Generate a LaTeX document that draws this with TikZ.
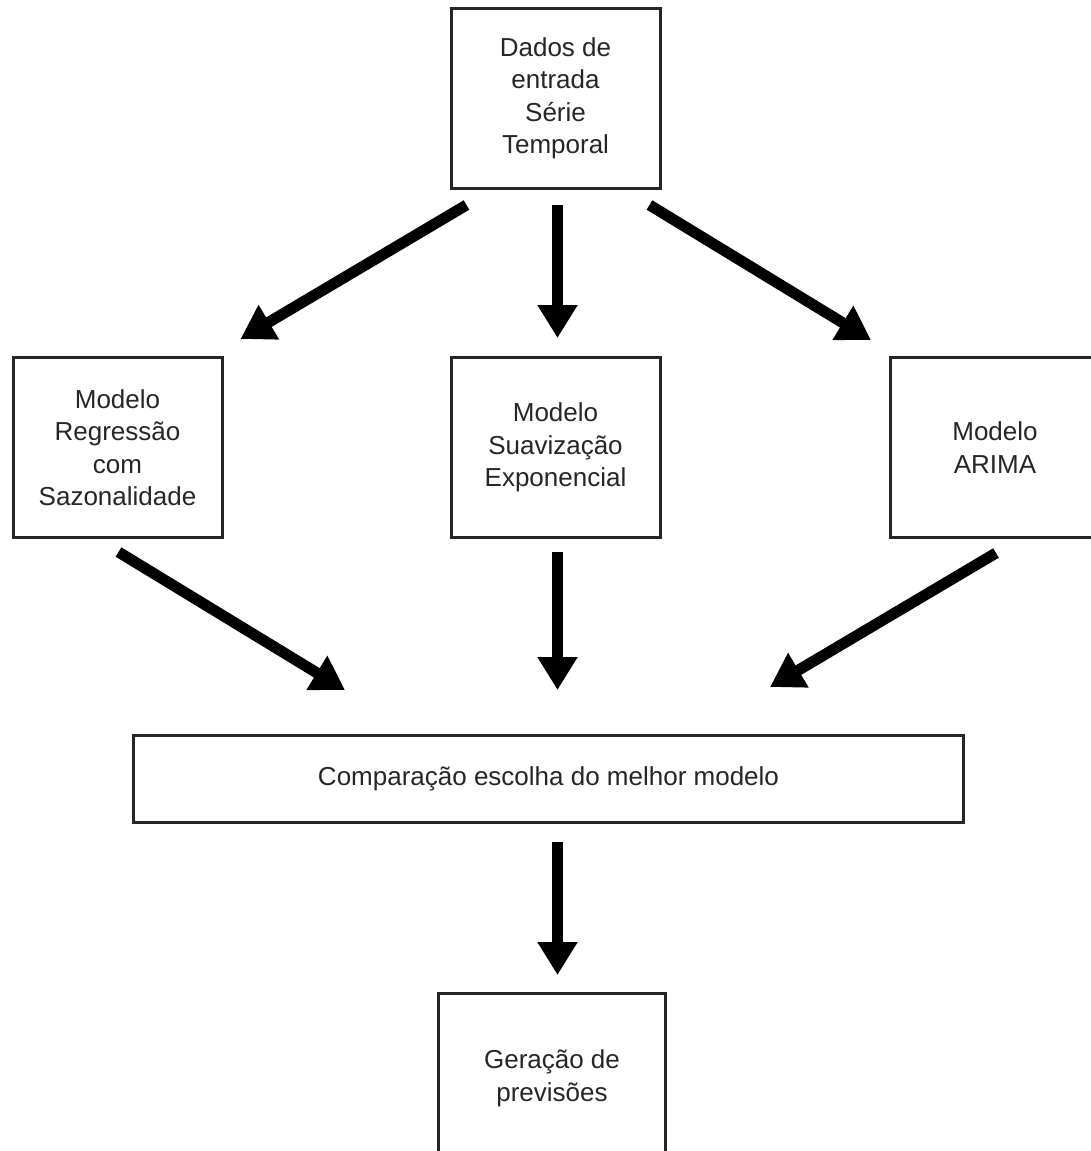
\documentclass[tikz,border=0pt]{standalone}
\usepackage{fontspec}
\setmainfont{Liberation Sans}
\usetikzlibrary{arrows.meta,positioning}

\begin{document}
\begin{tikzpicture}[
  box/.style  = {rectangle, draw=black!85, line width=1.5pt, fill=white,
                 minimum width=104.5pt, minimum height=90pt, align=center,
                 text=black!85, font=\fontsize{13}{16.25}\selectfont},
  wide/.style = {box, minimum width=415pt, minimum height=43.5pt},
  arr/.style  = {-{Triangle[length=16.5pt,width=19pt]}, line width=5.5pt, draw=black}
]
\useasboundingbox (0,0) rectangle (545.5pt,-575.5pt);

%%% ---- INPUT ----
\node[box] (serie) at (277.75pt,-49.25pt) {Dados de\\entrada\\Série\\Temporal};

%%% ---- MODELS ----
\node[box, below=83pt of serie]    (suav)  {Modelo\\Suavização\\Exponencial};
\node[box, left=113pt of suav]     (regr)  {Modelo\\Regressão\\com\\Sazonalidade};
\node[box, right=113.75pt of suav] (arima) {Modelo\\ARIMA};

\draw[arr] ([xshift=8.5pt,yshift=-7.5pt]serie.south west) -- ([xshift=8.5pt,yshift=8.5pt]regr.north east);
\draw[arr] ([xshift=1pt,yshift=-7.5pt]serie.south)        -- ([xshift=1pt,yshift=9pt]suav.north);
\draw[arr] ([xshift=-6pt,yshift=-7.5pt]serie.south east)  -- ([xshift=-9pt,yshift=8pt]arima.north west);

%%% ---- COMPARISON ----
\node[wide, below=97.5pt of suav, xshift=-3.5pt] (comp) {Comparação escolha do melhor modelo};

\draw[arr] ([xshift=0.5pt,yshift=-6.5pt]regr.south) -- ([xshift=-101.75pt,yshift=22pt]comp.north);
\draw[arr] ([xshift=1pt,yshift=-6.5pt]suav.south)   -- ([xshift=4.5pt,yshift=22pt]comp.north);
\draw[arr] ([xshift=0.5pt,yshift=-7pt]arima.south)  -- ([xshift=110.75pt,yshift=23.5pt]comp.north);

%%% ---- FORECASTS ----
\node[box, below=84pt of comp, xshift=1.75pt, minimum width=113.5pt,
      minimum height=85pt] (prev) {Geração de\\previsões};

\draw[arr] ([xshift=4.5pt,yshift=-9pt]comp.south) -- ([xshift=2.75pt,yshift=8.5pt]prev.north);
\end{tikzpicture}
\end{document}
